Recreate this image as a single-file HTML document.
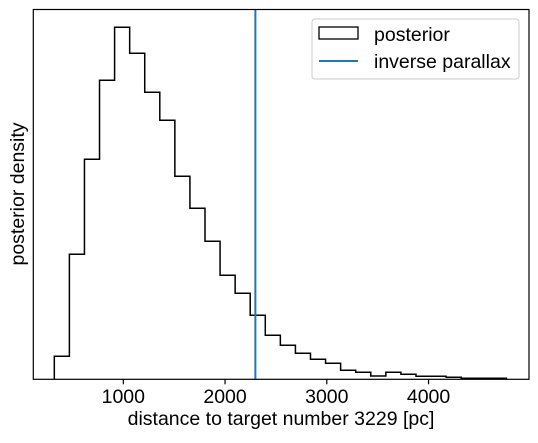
<!DOCTYPE html>
<html><head><meta charset="utf-8"><style>
body{margin:0;background:#fff}
svg text{font-family:"Liberation Sans",sans-serif;fill:#000}
</style></head><body>
<svg width="538" height="438" viewBox="0 0 538 438">
<g id="plot"></g>
</svg>
<script>
const binStart = 322;
const binWidth = 148.1;
const counts = [23,125,220,299,352,326,287,259,203,171,138,104,86,64,44,34,26,20,16,9,7,3.3,7,5,3,3,2,1,1,1];
const xTicks = [1000,2000,3000,4000];
const inverseParallax = 2298;

const L=33.3,R=529,T=9.5,B=379.3;
const FS='19.5px';
const x=d=>123.3+(d-1000)*0.10175;
const y=v=>B-v;
const NS='http://www.w3.org/2000/svg';
const g=document.getElementById('plot');
function mk(t,a,p){const e=document.createElementNS(NS,t);for(const k in a)e.setAttribute(k,a[k]);(p||g).appendChild(e);return e;}

let d='M'+x(binStart)+','+B;
counts.forEach((c,i)=>{const x0=x(binStart+i*binWidth),x1=x(binStart+(i+1)*binWidth);d+=' L'+x0+','+y(c)+' L'+x1+','+y(c);});
d+=' L'+x(binStart+counts.length*binWidth)+','+B;
const h=mk('path',{d:d,fill:'none',stroke:'#000','stroke-width':1.5});



const vl=mk('line',{x1:x(inverseParallax),x2:x(inverseParallax),y1:T,y2:B,stroke:'#1f77b4','stroke-width':2});



const fr=mk('rect',{x:L,y:T,width:R-L,height:B-T,fill:'none',stroke:'#000','stroke-width':1.2});



xTicks.forEach(t=>{
  const tk=mk('line',{x1:x(t),x2:x(t),y1:B,y2:B+5,stroke:'#000','stroke-width':1.2});
  
  
  const tl=mk('text',{x:x(t),y:403,'text-anchor':'middle'});
  tl.style.fontSize=FS;
  tl.textContent=t;
  
  
});

const xl=mk('text',{x:281,y:425,'text-anchor':'middle'});
xl.style.fontSize=FS;
xl.textContent='distance to target number 3229 [pc]';


const yl=mk('text',{x:0,y:0,'text-anchor':'middle',transform:'translate(24,194) rotate(-90)'});
yl.style.fontSize=FS;
yl.textContent='posterior density';



const lg=mk('g',{});


mk('rect',{x:312,y:19,width:207,height:60,rx:3,fill:'#fff',stroke:'#ccc','stroke-width':1},lg);
const lp=mk('rect',{x:319,y:27,width:39,height:12,fill:'none',stroke:'#000','stroke-width':1.3},lg);


const t1=mk('text',{x:374,y:41},lg);t1.style.fontSize=FS;t1.textContent='posterior';
const ll=mk('line',{x1:319,x2:358,y1:61,y2:61,stroke:'#1f77b4','stroke-width':2},lg);


const t2=mk('text',{x:374,y:68},lg);t2.style.fontSize=FS;t2.textContent='inverse parallax';
</script>
</body></html>
